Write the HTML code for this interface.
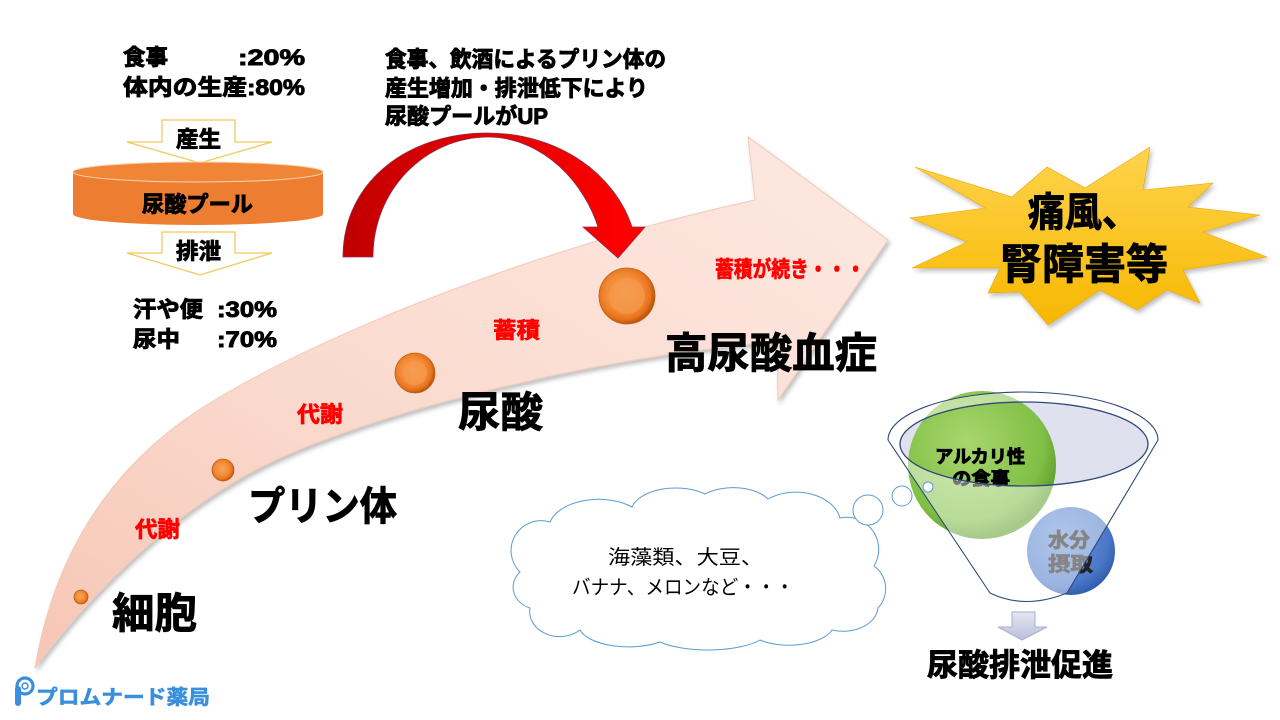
<!DOCTYPE html>
<html><head><meta charset="utf-8"><style>
html,body{margin:0;padding:0;background:#fff;}
svg{display:block;}
text{font-family:"Liberation Sans","Noto Sans CJK JP",sans-serif;}
.b{font-weight:bold;}
.k{stroke:#000;stroke-width:0.9;paint-order:stroke;}
.r{stroke:#ff0000;stroke-width:0.7;paint-order:stroke;}
</style></head><body>
<svg width="1280" height="720" viewBox="0 0 1280 720" xmlns="http://www.w3.org/2000/svg">
<defs>
<linearGradient id="arr" x1="0" y1="1" x2="1" y2="0">
<stop offset="0" stop-color="#f6c6b5"/><stop offset="0.4" stop-color="#fad9cd"/><stop offset="1" stop-color="#fde9e2"/>
</linearGradient>
<linearGradient id="red" x1="0" y1="0" x2="1" y2="0">
<stop offset="0" stop-color="#c00000"/><stop offset="0.5" stop-color="#e60000"/><stop offset="1" stop-color="#ff0000"/>
</linearGradient>
<radialGradient id="ball" cx="0.45" cy="0.45" r="0.55">
<stop offset="0" stop-color="#f7a45c"/><stop offset="0.6" stop-color="#f28a36"/><stop offset="0.85" stop-color="#e8731c"/><stop offset="1" stop-color="#b9560f"/>
</radialGradient>
<linearGradient id="star" x1="0" y1="0" x2="0" y2="1">
<stop offset="0" stop-color="#ffd34d"/><stop offset="1" stop-color="#f6b800"/>
</linearGradient>
<radialGradient id="green" cx="0.4" cy="0.35" r="0.65">
<stop offset="0" stop-color="#a9d66e"/><stop offset="0.8" stop-color="#7fbf45"/><stop offset="1" stop-color="#5e9e2e"/>
</radialGradient>
<radialGradient id="blue" cx="0.4" cy="0.35" r="0.65">
<stop offset="0" stop-color="#6f98dc"/><stop offset="0.8" stop-color="#4a78c8"/><stop offset="1" stop-color="#3562b0"/>
</radialGradient>
<linearGradient id="lav" x1="0" y1="0" x2="0" y2="1">
<stop offset="0" stop-color="#e4e6f2"/><stop offset="1" stop-color="#b9bfdc"/>
</linearGradient>
<filter id="sh" x="-10%" y="-10%" width="130%" height="130%">
<feDropShadow dx="2" dy="3" stdDeviation="2" flood-color="#000" flood-opacity="0.25"/>
</filter>
</defs>

<!-- big curved arrow -->
<path d="M35,668 Q60,520 167,433 C250,365 500,255 755,200 L748,137 L888,240 L778,400 L777,342 C600,355 330,420 233,483 C180,513 100,580 35,668 Z" fill="url(#arr)" stroke="#f1c9b9" stroke-width="1" filter="url(#sh)"/>

<!-- red curved arrow -->
<path d="M343,257 C343,180 410,133 487,133 C560,133 615,175 632,227 L645,227 L618,258 L583,227 L598,227 C585,185 545,138 489,137 C425,137 373,190 373,257 Z" fill="url(#red)" stroke="#8a3050" stroke-width="0.8"/>

<!-- balls -->
<g stroke="#c0600f" stroke-width="0.8">
<circle cx="81" cy="597" r="7" fill="url(#ball)"/>
<circle cx="223" cy="470" r="11" fill="url(#ball)"/>
<circle cx="415" cy="373" r="20" fill="url(#ball)"/>
<circle cx="627" cy="296" r="28" fill="url(#ball)"/>
</g>
<g fill="#f59a4c" opacity="0.7">
<circle cx="415" cy="373" r="12"/>
<circle cx="627" cy="296" r="18"/>
</g>

<!-- left top texts -->
<g font-size="22" fill="#000">
<text x="123" y="65" class="b k" textLength="45" lengthAdjust="spacingAndGlyphs">食事</text>
<text x="238" y="65" class="b k" textLength="67" lengthAdjust="spacingAndGlyphs">:20%</text>
<text x="123" y="95" class="b k" textLength="182" lengthAdjust="spacingAndGlyphs">体内の生産:80%</text>
<text x="133" y="317" class="b k" textLength="70" lengthAdjust="spacingAndGlyphs">汗や便</text>
<text x="217" y="317" class="b k" textLength="60" lengthAdjust="spacingAndGlyphs">:30%</text>
<text x="133" y="347" class="b k" textLength="47" lengthAdjust="spacingAndGlyphs">尿中</text>
<text x="217" y="347" class="b k" textLength="60" lengthAdjust="spacingAndGlyphs">:70%</text>
</g>

<!-- 産生 arrow -->
<path d="M162,120 L235,120 L235,142 L272,142 L200,163 L127,142 L162,142 Z" fill="#fff" stroke="#f3c85a" stroke-width="1.3"/>
<text x="176" y="147" font-size="22" class="b k" textLength="45" lengthAdjust="spacingAndGlyphs">産生</text>

<!-- cylinder -->
<path d="M73,172 L73,214 A125,11 0 0 0 323,214 L323,172 Z" fill="#ed7d31"/>
<ellipse cx="198" cy="172" rx="125" ry="10" fill="#f08538" stroke="#fbd2b0" stroke-width="1"/>
<text x="142" y="212" font-size="22" class="b k" textLength="111" lengthAdjust="spacingAndGlyphs">尿酸プール</text>

<!-- 排泄 arrow -->
<path d="M162,232 L235,232 L235,253 L272,253 L200,275 L127,253 L162,253 Z" fill="#fff" stroke="#f3c85a" stroke-width="1.3"/>
<text x="176" y="259" font-size="22" class="b k" textLength="45" lengthAdjust="spacingAndGlyphs">排泄</text>

<!-- top center text -->
<g font-size="22" fill="#000">
<text x="385" y="67" class="b k" textLength="281" lengthAdjust="spacingAndGlyphs">食事、飲酒によるプリン体の</text>
<text x="385" y="96" class="b k" textLength="263" lengthAdjust="spacingAndGlyphs">産生増加・排泄低下により</text>
<text x="385" y="124" class="b k" textLength="163" lengthAdjust="spacingAndGlyphs">尿酸プールがUP</text>
</g>

<!-- red labels -->
<g fill="#ff0000" font-size="22">
<text x="493" y="338" class="b r" textLength="47" lengthAdjust="spacingAndGlyphs">蓄積</text>
<text x="715" y="277" class="b r" textLength="150" lengthAdjust="spacingAndGlyphs">蓄積が続き・・・</text>
<text x="297" y="422" class="b r" textLength="46" lengthAdjust="spacingAndGlyphs">代謝</text>
<text x="135" y="537" class="b r" textLength="45" lengthAdjust="spacingAndGlyphs">代謝</text>
</g>

<!-- big black labels -->
<g fill="#000">
<text x="248" y="520" font-size="40" class="b k" textLength="149" lengthAdjust="spacingAndGlyphs">プリン体</text>
<text x="112" y="628" font-size="42" class="b k" textLength="85" lengthAdjust="spacingAndGlyphs">細胞</text>
<text x="458" y="427" font-size="42" class="b k" textLength="85" lengthAdjust="spacingAndGlyphs">尿酸</text>
<text x="665" y="368" font-size="42" class="b k" textLength="212" lengthAdjust="spacingAndGlyphs">高尿酸血症</text>
</g>

<!-- starburst -->
<polygon points="915,167 1012,197 1047,167 1085,188 1150,147 1143,190 1213,183 1188,207 1260,215 1203,232 1267,257 1183,270 1200,303 1167,290 1137,310 1100,290 1048,325 1020,292 988,293 1000,268 912,268 967,242 910,218 985,208" fill="url(#star)" stroke="#e8a800" stroke-width="0.6" filter="url(#sh)"/>
<text x="1028" y="226" font-size="40" class="b k" textLength="111" lengthAdjust="spacingAndGlyphs">痛風、</text>
<text x="1000" y="279" font-size="42" class="b k" textLength="168" lengthAdjust="spacingAndGlyphs">腎障害等</text>

<!-- cloud -->
<path d="M520,572 A30,30 0 0 1 550,522 A50,30 0 0 1 632,507 A45,25 0 0 1 705,494 A40,22 0 0 1 768,499 A45,32 0 0 1 840,518 A32,32 0 0 1 874,566 A28,28 0 0 1 878,608 A35,25 0 0 1 832,630 A45,22 0 0 1 760,640 A60,20 0 0 1 660,642 A50,22 0 0 1 580,630 A30,25 0 0 1 530,608 A25,22 0 0 1 520,572 Z" fill="#fff" stroke="#5b9bd5" stroke-width="1"/>
<circle cx="868" cy="510" r="15" fill="#fff" stroke="#5b9bd5" stroke-width="1"/>
<circle cx="902" cy="496" r="10" fill="#fff" stroke="#5b9bd5" stroke-width="1"/>
<g font-size="20" fill="#000">
<text x="608" y="564" textLength="155" lengthAdjust="spacingAndGlyphs">海藻類、大豆、</text>
<text x="572" y="594" textLength="222" lengthAdjust="spacingAndGlyphs">バナナ、メロンなど・・・</text>
</g>

<!-- funnel -->
<ellipse cx="1024" cy="444" rx="124" ry="42" fill="#dfe1ee"/>
<circle cx="982" cy="465" r="74" fill="url(#green)"/>
<circle cx="1071" cy="551" r="44" fill="url(#blue)"/>
<g font-size="18" fill="#000">
<text x="935" y="463" class="b k" textLength="90" lengthAdjust="spacingAndGlyphs">アルカリ性</text>
<text x="952" y="485" class="b k" textLength="58" lengthAdjust="spacingAndGlyphs">の食事</text>
</g>
<g font-size="20" fill="#222">
<text x="1048" y="547" class="b" stroke="#222" stroke-width="0.8" paint-order="stroke" textLength="42" lengthAdjust="spacingAndGlyphs">水分</text>
<text x="1048" y="571" class="b" stroke="#222" stroke-width="0.8" paint-order="stroke" textLength="45" lengthAdjust="spacingAndGlyphs">摂取</text>
</g>
<path fill-rule="evenodd" d="M888,440 A135,48 0 0 1 1158,440 L1067,593 Q1025,610 990,593 Z M900,444 A124,42 0 0 0 1148,444 A124,42 0 0 0 900,444 Z" fill="#ffffff" fill-opacity="0.45"/>
<path d="M888,440 A135,48 0 0 1 1158,440 L1067,593 Q1025,610 990,593 Z" fill="none" stroke="#2f4a7a" stroke-width="1.1"/>
<ellipse cx="1024" cy="444" rx="124" ry="42" fill="none" stroke="#2f4a7a" stroke-width="1.3"/>
<circle cx="928" cy="487" r="5" fill="#fff" stroke="#5b9bd5" stroke-width="1"/>

<!-- small down arrow -->
<path d="M1012,612 L1035,612 L1035,627 L1047,627 L1022,640 L998,627 L1012,627 Z" fill="url(#lav)" stroke="#a7aecf" stroke-width="1"/>
<text x="927" y="676" font-size="31" class="b k" textLength="186" lengthAdjust="spacingAndGlyphs">尿酸排泄促進</text>

<!-- logo -->
<g fill="none" stroke="#3a8fdc" stroke-width="3.2">
<circle cx="25" cy="686" r="8"/>
<circle cx="25" cy="686" r="3" stroke-width="1.5"/>
</g>
<rect x="15" y="686" width="6" height="20" rx="3" fill="#3a8fdc"/>
<text x="36" y="704" font-size="20" class="b" fill="#3a8fdc" stroke="#3a8fdc" stroke-width="0.6" paint-order="stroke" textLength="174" lengthAdjust="spacingAndGlyphs">プロムナード薬局</text>
</svg>
</body></html>
